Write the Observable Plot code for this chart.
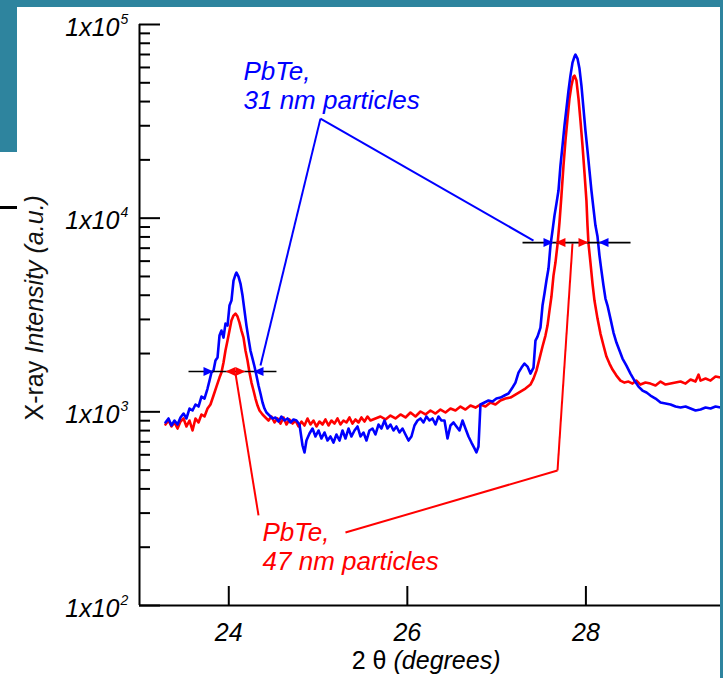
<!DOCTYPE html>
<html><head><meta charset="utf-8">
<script src="https://cdn.jsdelivr.net/npm/d3@7"></script>
<script src="https://cdn.jsdelivr.net/npm/@observablehq/plot@0.6"></script>
<style>
html,body{margin:0;padding:0;background:#fff;}
#wrap{position:relative;width:723px;height:678px;overflow:hidden;background:#fff;}
#chart svg{display:block;}
.teal{position:absolute;background:#2e849e;}
</style></head><body>
<div id="wrap">
<div id="chart"></div>
<div class="teal" style="left:0;top:0;width:723px;height:7px"></div>
<div class="teal" style="left:0;top:0;width:17px;height:152px"></div>
<div class="teal" style="left:720px;top:0;width:3px;height:678px"></div>
<div style="position:absolute;left:0;top:206px;width:17px;height:3px;background:#000"></div>
</div>
<script>
// ---- scales / ticks ----
const xDomain = [23, 29.53];
const yDomain = [100, 100000];
const xTicks = [24, 26, 28];
const xTickLabels = ["24", "26", "28"];
const yMajor = [100, 1000, 10000, 100000];
const yMinor = [200,300,400,500,600,700,800,900,2000,3000,4000,5000,6000,7000,8000,9000,20000,30000,40000,50000,60000,70000,80000,90000];
const yTickBase = ["1x10", "1x10", "1x10", "1x10"];
const yTickExp = ["2", "3", "4", "5"];

// ---- series: [2theta (deg), intensity (a.u.)] ----
const pbte31 = [[23.291,881],[23.325,924],[23.358,850],[23.392,902],[23.426,860],[23.459,935],[23.493,980],[23.526,924],[23.560,1040],[23.594,1016],[23.627,1091],[23.661,1065],[23.694,1199],[23.728,1171],[23.762,1319],[23.784,1450],[23.806,1595],[23.829,1633],[23.851,1840],[23.874,1907],[23.896,2476],[23.918,2628],[23.941,2418],[23.963,2856],[23.986,2788],[24.008,3539],[24.030,3755],[24.053,4762],[24.075,5114],[24.086,5237],[24.109,4994],[24.131,4595],[24.154,3985],[24.176,3333],[24.198,2788],[24.221,2389],[24.243,2072],[24.266,1884],[24.288,1713],[24.310,1539],[24.333,1367],[24.355,1243],[24.378,1117],[24.400,1040],[24.422,992],[24.456,957],[24.490,924],[24.523,935],[24.557,891],[24.590,946],[24.624,902],[24.658,924],[24.691,881],[24.725,913],[24.758,902],[24.792,860],[24.826,670],[24.848,617],[24.870,711],[24.904,773],[24.938,820],[24.971,746],[25.005,801],[25.038,728],[25.072,782],[25.106,711],[25.139,746],[25.173,694],[25.206,764],[25.240,711],[25.274,801],[25.307,728],[25.341,820],[25.374,746],[25.408,801],[25.442,840],[25.475,746],[25.509,782],[25.542,711],[25.576,801],[25.610,820],[25.643,764],[25.677,860],[25.710,820],[25.744,902],[25.778,820],[25.811,860],[25.845,801],[25.878,840],[25.912,782],[25.946,820],[25.979,764],[26.013,711],[26.046,746],[26.080,850],[26.114,902],[26.147,924],[26.181,881],[26.214,946],[26.248,902],[26.282,924],[26.315,860],[26.349,946],[26.382,902],[26.416,902],[26.450,728],[26.483,850],[26.517,881],[26.550,840],[26.584,801],[26.618,902],[26.651,820],[26.685,746],[26.718,694],[26.752,647],[26.774,617],[26.797,662],[26.819,1091],[26.864,1117],[26.909,1144],[26.954,1130],[26.998,1171],[27.043,1185],[27.088,1214],[27.133,1243],[27.178,1335],[27.211,1416],[27.245,1595],[27.279,1693],[27.312,1775],[27.346,1713],[27.379,1576],[27.413,1693],[27.435,2333],[27.458,2447],[27.491,2723],[27.514,3539],[27.536,4081],[27.558,4762],[27.581,5492],[27.603,7219],[27.626,8630],[27.648,10310],[27.670,11890],[27.693,13890],[27.715,18690],[27.738,23710],[27.760,30070],[27.782,36800],[27.805,45590],[27.827,54480],[27.850,63580],[27.872,68280],[27.883,69930],[27.906,66670],[27.928,59200],[27.950,48370],[27.973,36800],[27.995,28330],[28.018,22340],[28.040,17610],[28.062,13890],[28.085,11210],[28.107,9156],[28.130,8035],[28.152,6412],[28.174,5363],[28.197,4487],[28.219,3846],[28.242,3539],[28.275,3030],[28.309,2566],[28.342,2280],[28.376,2072],[28.410,1884],[28.454,1733],[28.499,1576],[28.544,1450],[28.589,1350],[28.634,1288],[28.679,1258],[28.723,1214],[28.780,1171],[28.836,1117],[28.892,1104],[28.948,1091],[29.004,1065],[29.060,1052],[29.116,1065],[29.172,1040],[29.228,1016],[29.284,1028],[29.340,1052],[29.396,1040],[29.452,1065],[29.508,1052]];

const pbte47 = [[23.291,860],[23.325,902],[23.358,840],[23.392,881],[23.426,820],[23.459,891],[23.493,924],[23.526,840],[23.560,902],[23.594,801],[23.627,924],[23.661,881],[23.694,969],[23.728,946],[23.762,1040],[23.795,1091],[23.829,1214],[23.862,1350],[23.896,1503],[23.918,1595],[23.941,1796],[23.963,2072],[23.986,2333],[24.008,2628],[24.030,2959],[24.053,3140],[24.075,3216],[24.098,3103],[24.120,2890],[24.142,2628],[24.165,2418],[24.187,2072],[24.210,1840],[24.232,1595],[24.254,1416],[24.277,1288],[24.299,1171],[24.322,1078],[24.344,1016],[24.378,969],[24.411,935],[24.445,902],[24.478,946],[24.512,881],[24.546,924],[24.579,870],[24.613,935],[24.646,860],[24.680,913],[24.714,870],[24.747,902],[24.781,840],[24.814,891],[24.848,850],[24.882,924],[24.915,860],[24.949,902],[24.982,840],[25.016,891],[25.050,860],[25.083,913],[25.117,850],[25.150,902],[25.184,870],[25.218,924],[25.251,860],[25.285,902],[25.318,881],[25.352,935],[25.386,870],[25.419,913],[25.453,881],[25.486,935],[25.520,891],[25.554,946],[25.587,902],[25.643,924],[25.699,946],[25.755,913],[25.811,957],[25.867,924],[25.923,969],[25.979,935],[26.035,992],[26.091,946],[26.147,1004],[26.203,969],[26.259,1016],[26.315,980],[26.371,1028],[26.427,992],[26.483,1040],[26.539,1016],[26.595,1065],[26.651,1028],[26.707,1078],[26.763,1052],[26.819,1091],[26.875,1065],[26.931,1117],[26.987,1091],[27.043,1144],[27.099,1171],[27.155,1185],[27.211,1228],[27.267,1273],[27.323,1319],[27.379,1383],[27.413,1485],[27.446,1633],[27.480,1884],[27.514,2173],[27.547,2476],[27.570,2788],[27.592,3333],[27.614,3938],[27.637,5053],[27.659,5899],[27.682,7305],[27.704,9489],[27.726,13080],[27.749,18690],[27.771,25160],[27.794,32670],[27.816,41450],[27.838,48370],[27.861,53840],[27.872,54480],[27.894,51340],[27.917,41450],[27.939,31920],[27.962,23710],[27.984,17190],[28.006,12330],[28.018,9156],[28.029,7393],[28.051,5899],[28.074,4595],[28.096,3755],[28.130,3030],[28.163,2536],[28.197,2199],[28.230,1929],[28.264,1775],[28.298,1653],[28.342,1539],[28.387,1450],[28.432,1416],[28.477,1433],[28.522,1399],[28.566,1450],[28.611,1383],[28.667,1416],[28.723,1399],[28.780,1367],[28.836,1433],[28.892,1383],[28.948,1399],[29.004,1416],[29.060,1433],[29.116,1399],[29.172,1468],[29.228,1433],[29.262,1557],[29.284,1450],[29.340,1485],[29.396,1450],[29.452,1521],[29.508,1503]];

// ---- annotations (data coordinates) ----
const blueLabel = [{x: 24.165, y: 66300, text: "PbTe,\n31 nm particles"}];
const redLabel = [{x: 24.378, y: 276, text: "PbTe,\n47 nm particles"}];
const blueLeaders = [
  {x1: 25.027, y1: 32660, x2: 24.355, y2: 1734},
  {x1: 25.027, y1: 32660, x2: 27.413, y2: 7657}
];
const redLeaders = [
  {x1: 24.333, y1: 292, x2: 24.075, y2: 1578},
  {x1: 25.307, y1: 238, x2: 27.682, y2: 498},
  {x1: 27.682, y1: 498, x2: 27.85, y2: 7395}
];
const fwhmLines = [
  {x1: 23.549, x2: 24.534, y: 1614},
  {x1: 27.29, x2: 28.50, y: 7480}
];
const fwhmArrows = [
  {x: 23.829, y: 1614, dir: "right", series: "31"},
  {x: 23.963, y: 1614, dir: "left", series: "47"},
  {x: 24.187, y: 1614, dir: "right", series: "47"},
  {x: 24.277, y: 1614, dir: "left", series: "31"},
  {x: 27.637, y: 7480, dir: "right", series: "31"},
  {x: 27.659, y: 7480, dir: "left", series: "47"},
  {x: 28.029, y: 7480, dir: "right", series: "47"},
  {x: 28.141, y: 7480, dir: "left", series: "31"}
];

const BLUE = "#0000ff", RED = "#ff0000";
const FONT = "Liberation Sans, Arial, Helvetica, sans-serif";
const triRight = {draw(c) { c.moveTo(0, 0); c.lineTo(-10, -4.5); c.lineTo(-10, 4.5); c.closePath(); }};
const triLeft = {draw(c) { c.moveTo(0, 0); c.lineTo(10, -4.5); c.lineTo(10, 4.5); c.closePath(); }};

const W = 723, H = 678, ML = 139, MR = 1, MT = 24, MB = 73;
const frameW = W - ML - MR, frameH = H - MT - MB;

const plot = Plot.plot({
  width: W, height: H,
  marginLeft: ML, marginRight: MR, marginTop: MT, marginBottom: MB,
  x: {domain: xDomain, axis: null},
  y: {type: "log", domain: yDomain, axis: null},
  style: {background: "transparent", fontFamily: FONT, overflow: "visible"},
  marks: [
    // data
    Plot.line(pbte47, {x: d => d[0], y: d => d[1], stroke: RED, strokeWidth: 2.6, strokeLinejoin: "round"}),
    Plot.line(pbte31, {x: d => d[0], y: d => d[1], stroke: BLUE, strokeWidth: 2.6, strokeLinejoin: "round"}),
    // annotations
    Plot.link(blueLeaders, {x1: "x1", y1: "y1", x2: "x2", y2: "y2", stroke: BLUE, strokeWidth: 2}),
    Plot.link(redLeaders, {x1: "x1", y1: "y1", x2: "x2", y2: "y2", stroke: RED, strokeWidth: 2}),
    Plot.link(fwhmLines, {x1: "x1", x2: "x2", y1: "y", y2: "y", stroke: "#000", strokeWidth: 1.6}),
    Plot.dot(fwhmArrows.filter(d => d.dir === "right"), {x: "x", y: "y", symbol: triRight, fill: d => d.series === "31" ? BLUE : RED, stroke: "none"}),
    Plot.dot(fwhmArrows.filter(d => d.dir === "left"), {x: "x", y: "y", symbol: triLeft, fill: d => d.series === "31" ? BLUE : RED, stroke: "none"}),
    Plot.text(blueLabel, {x: "x", y: "y", text: "text", fill: BLUE, fontSize: 26, fontStyle: "italic", textAnchor: "start", lineAnchor: "top", lineHeight: 1.12}),
    Plot.text(redLabel, {x: "x", y: "y", text: "text", fill: RED, fontSize: 26, fontStyle: "italic", textAnchor: "start", lineAnchor: "top", lineHeight: 1.12}),
    // axes
    Plot.ruleX([xDomain[0]], {stroke: "#000", strokeWidth: 2}),
    Plot.ruleY([yDomain[0]], {stroke: "#000", strokeWidth: 2}),
    Plot.tickY(yMajor, {y: d => d, insetRight: frameW - 21, stroke: "#000", strokeWidth: 2}),
    Plot.tickY(yMinor, {y: d => d, insetRight: frameW - 11, stroke: "#000", strokeWidth: 2}),
    Plot.tickX(xTicks, {x: d => d, insetTop: frameH - 19, stroke: "#000", strokeWidth: 2}),
    Plot.text(yMajor, {y: d => d, frameAnchor: "left", text: (d, i) => yTickBase[i], textAnchor: "end", lineAnchor: "bottom", dx: -20, dy: 11, fontSize: 25, fontStyle: "italic", fill: "#000"}),
    Plot.text(yMajor, {y: d => d, frameAnchor: "left", text: (d, i) => yTickExp[i], textAnchor: "start", lineAnchor: "bottom", dx: -19, dy: -1, fontSize: 14, fontStyle: "italic", fill: "#000"}),
    Plot.text(xTicks, {x: d => d, frameAnchor: "bottom", text: (d, i) => xTickLabels[i], textAnchor: "middle", lineAnchor: "bottom", dy: 35, fontSize: 25, fontStyle: "italic", fill: "#000"}),
    // axis titles
    Plot.text(["2 θ"], {frameAnchor: "bottom", text: d => d, textAnchor: "end", lineAnchor: "bottom", dx: -44.5, dy: 63, fontSize: 25, fill: "#000"}),
    Plot.text(["(degrees)"], {frameAnchor: "bottom", text: d => d, textAnchor: "start", lineAnchor: "bottom", dx: -37.5, dy: 63, fontSize: 25, fontStyle: "italic", fill: "#000"}),
    Plot.text(["X-ray"], {frameAnchor: "left", text: d => d, rotate: -90, textAnchor: "start", lineAnchor: "middle", dx: -105, dy: 105.5, fontSize: 25, fill: "#111"}),
    Plot.text(["Intensity (a.u.)"], {frameAnchor: "left", text: d => d, rotate: -90, textAnchor: "start", lineAnchor: "middle", dx: -105, dy: 38.5, fontSize: 25, fontStyle: "italic", fill: "#111"})
  ]
});
document.getElementById("chart").appendChild(plot);
</script>
</body></html>
